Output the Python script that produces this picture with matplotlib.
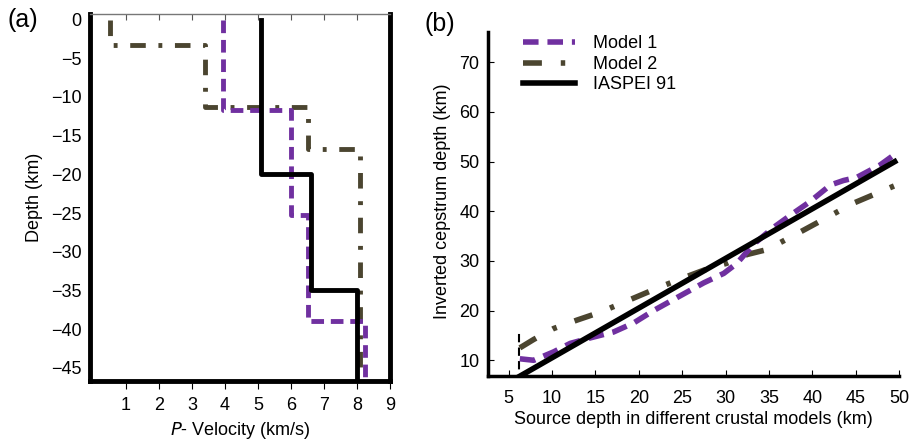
import matplotlib
matplotlib.use("Agg")
import matplotlib.pyplot as plt
import numpy as np

plt.rcParams['font.family'] = ['Liberation Sans', 'DejaVu Sans']

# ---- Panel (a): velocity models (step profiles) ----
m1_vel = [3.95, 6.0, 6.5, 8.25]
m1_top = [0, -11.7, -25.3, -38.9]
m2_vel = [0.5, 3.4, 6.5, 8.1]
m2_top = [0, -3.3, -11.3, -16.7]
ia_vel = [5.1, 6.6, 8.0]
ia_top = [0, -20, -35]
depth_bottom = -46.7

# ---- Panel (b): inverted depth vs source depth ----
m1_x = [6.3, 7.9, 10.2, 12.1, 14.4, 17.1, 19.4, 21.7, 24.8, 27.5, 29.8, 31.3,
        33.2, 35.5, 37.8, 39.7, 42.1, 43.6, 45.1, 47.8, 49.3]
m1_y = [10.3, 10.0, 11.7, 13.4, 14.5, 15.7, 17.5, 20.0, 23.0, 25.6, 27.5, 29.5,
        33.3, 36.7, 39.6, 41.9, 45.3, 46.2, 46.8, 49.3, 51.2]
m2_x = [6.3, 7.9, 10.2, 12.9, 15.6, 17.9, 19.8, 22.5, 25.9, 28.2, 30.1, 32.5,
        34.8, 39.0, 44.7, 49.7]
m2_y = [12.5, 14.2, 16.4, 18.1, 19.7, 21.4, 22.8, 24.8, 27.1, 28.6, 29.5, 31.3,
        32.3, 36.2, 41.6, 45.3]
ia_x = [6.3, 49.5]
ia_y = [6.8, 50.0]
vline_x = 6.2
vline_top = 16.2

purple = '#7030A0'
olive = '#4B4530'

fig = plt.figure(figsize=(9.1, 4.41), dpi=100)

# ----- (a) -----
ax = fig.add_axes([0.099, 0.136, 0.3296, 0.832])

def steps(vel, tops, bottom):
    xs, ys = [], []
    bounds = tops[1:] + [bottom]
    for v, t, b in zip(vel, tops, bounds):
        xs += [v, v]
        ys += [t, b]
    return xs, ys

x, y = steps(m2_vel, m2_top, depth_bottom)
ax.plot(x, y, color=olive, lw=3.5, dashes=(3.2, 2.6, 0.8, 2.6), zorder=2)
x, y = steps(m1_vel, m1_top, depth_bottom)
ax.plot(x, y, color=purple, lw=3.5, dashes=(2.6, 1.4), zorder=3)
x, y = steps(ia_vel, ia_top, depth_bottom)
ax.plot(x, y, color='black', lw=3.5, zorder=4)

ax.set_xlim(-0.09, 9.0)
ax.set_ylim(depth_bottom, 0.7)
ax.set_yticks(np.arange(0, -50, -5))
ax.set_yticklabels(['0'] + ['\u2212%d' % v for v in range(5, 50, 5)], fontsize=13)
ax.tick_params(axis='y', length=0, pad=6)
ax.set_xticks(range(1, 10))
ax.tick_params(axis='x', which='both', top=True, bottom=False, labelbottom=False,
               direction='in', length=4, color='#555555')
for s in ['left', 'right', 'bottom']:
    ax.spines[s].set_linewidth(3.5)
ax.spines['top'].set_linewidth(1.0)
ax.spines['top'].set_color('#777777')
sec = ax.secondary_xaxis(-0.022)
sec.set_xticks(range(1, 10))
sec.set_xticklabels([str(i) for i in range(1, 10)], fontsize=13)
sec.tick_params(direction='in', length=4, pad=6)
sec.spines['bottom'].set_visible(False)
sec.set_xlabel(r'$\it{P}$- Velocity (km/s)', fontsize=13, labelpad=4)
ax.set_ylabel('Depth (km)', fontsize=13, labelpad=6)
fig.text(0.008, 0.955, '(a)', fontsize=18, va='center', ha='left')

# ----- (b) -----
bx = fig.add_axes([0.536, 0.147, 0.452, 0.794])
bx.plot([vline_x, vline_x], [0, vline_top], color='black', lw=1.5, dashes=(4, 2.5), zorder=1)
bx.plot(m1_x, m1_y, color=purple, lw=4, dashes=(2.8, 1.6), label='Model 1', zorder=3)
bx.plot(m2_x, m2_y, color=olive, lw=4, dashes=(3.4, 3.4, 0.8, 3.4), label='Model 2', zorder=2)
bx.plot(ia_x, ia_y, color='black', lw=4, label='IASPEI 91', zorder=4)
bx.set_xlim(2.6, 50)
bx.set_ylim(6.8, 77.3)
bx.set_xticks(range(5, 55, 5))
bx.set_yticks(range(10, 80, 10))
bx.tick_params(labelsize=13, direction='in', length=4)
bx.tick_params(axis='x', pad=10)
bx.tick_params(axis='y', pad=6)
for s in ['top', 'right']:
    bx.spines[s].set_visible(False)
bx.spines['left'].set_linewidth(2.5)
bx.spines['bottom'].set_linewidth(2.5)
bx.spines['left'].set_bounds(6.8, 76)
bx.set_xlabel('Source depth in different crustal models (km)', fontsize=13, labelpad=3)
bx.set_ylabel('Inverted cepstrum depth (km)', fontsize=13, labelpad=6)
leg = bx.legend(loc='upper left', bbox_to_anchor=(0.045, 1.02), frameon=False,
                fontsize=13, handlelength=2.9, labelspacing=0.2, handletextpad=1.0)
fig.text(0.466, 0.945, '(b)', fontsize=18, va='center', ha='left')

fig.savefig('out.png', dpi=100)
